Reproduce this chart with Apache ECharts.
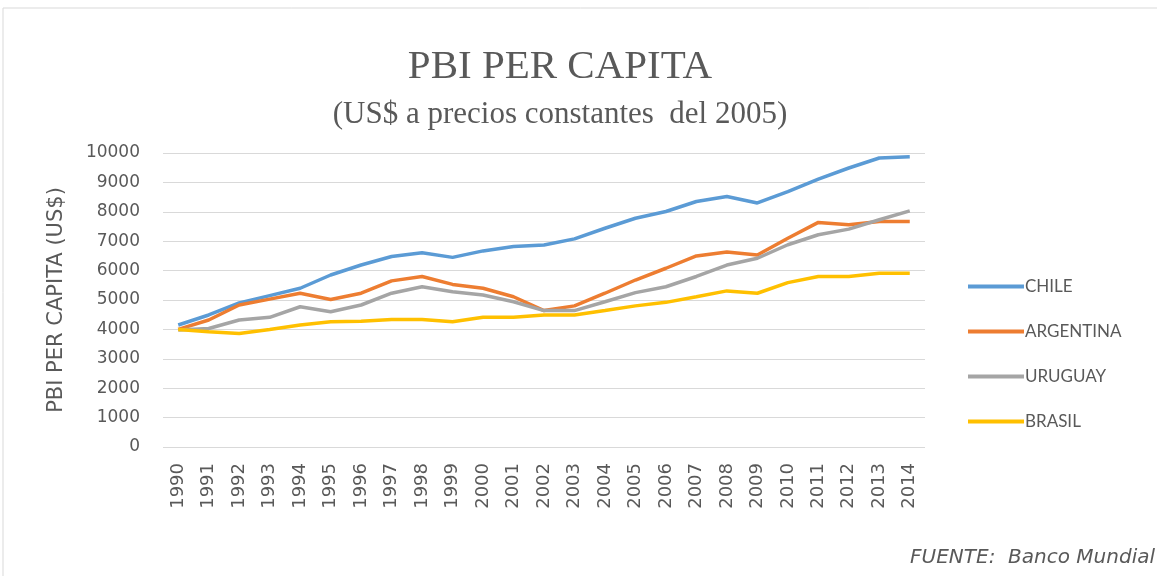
<!DOCTYPE html>
<html>
<head>
<meta charset="utf-8">
<script src="https://cdn.jsdelivr.net/npm/echarts@6/dist/echarts.min.js"></script>
<style>
  html, body { margin: 0; padding: 0; background: #fff; }
  #chart { width: 1157px; height: 576px; }
</style>
</head>
<body>
<div id="chart"></div>
<script>
  // years on the x axis
  const years = ['1990', '1991', '1992', '1993', '1994', '1995', '1996', '1997', '1998', '1999',
    '2000', '2001', '2002', '2003', '2004', '2005', '2006', '2007', '2008', '2009',
    '2010', '2011', '2012', '2013', '2014'];

  // GDP per capita, US$ constant 2005
  const chile = [4150, 4490, 4900, 5150, 5400, 5850, 6190, 6480, 6610, 6450,
    6670, 6820, 6870, 7080, 7440, 7780, 8010, 8350, 8520, 8300,
    8690, 9110, 9490, 9830, 9870];
  const argentina = [4000, 4320, 4830, 5030, 5230, 5020, 5230, 5650, 5800, 5530,
    5400, 5110, 4640, 4800, 5230, 5680, 6080, 6500, 6630, 6530,
    7100, 7640, 7560, 7670, 7670];
  const uruguay = [3980, 4030, 4320, 4410, 4770, 4600, 4830, 5230, 5450, 5280,
    5170, 4940, 4640, 4640, 4940, 5250, 5450, 5800, 6190, 6420,
    6880, 7220, 7410, 7730, 8030];
  const brasil = [4000, 3920, 3860, 4000, 4150, 4260, 4280, 4340, 4340, 4260,
    4410, 4410, 4490, 4490, 4640, 4800, 4920, 5110, 5310, 5230,
    5590, 5800, 5800, 5910, 5910];

  const textColor = '#595959';
  const font = 'DejaVu Sans';

  function line(name, data, color) {
    return {
      name: name,
      type: 'line',
      data: data,
      symbol: 'none',
      animation: false,
      lineStyle: { width: 3.5, color: color },
      itemStyle: { color: color }
    };
  }

  const chart = echarts.init(document.getElementById('chart'));
  chart.setOption({
    backgroundColor: '#fff',
    title: [
      {
        text: 'PBI PER CAPITA',
        left: 555,
        textAlign: 'center',
        top: 42,
        textStyle: { fontFamily: 'Liberation Serif', fontSize: 41, fontWeight: 'normal', color: textColor }
      },
      {
        text: '(US$ a precios constantes  del 2005)',
        left: 555,
        textAlign: 'center',
        top: 94,
        textStyle: { fontFamily: 'Liberation Serif', fontSize: 31, fontWeight: 'normal', color: textColor }
      }
    ],
    // light frame round the chart
    graphic: [{
      type: 'rect',
      shape: { x: 3, y: 8, width: 1170, height: 600 },
      style: { fill: 'none', stroke: '#d9d9d9', lineWidth: 1 }
    }, {
      type: 'text',
      right: 2,
      bottom: 8,
      style: {
        text: 'FUENTE:  Banco Mundial',
        fontFamily: font,
        fontStyle: 'italic',
        fontSize: 20,
        fill: textColor
      }
    }],
    legend: {
      orient: 'vertical',
      left: 963,
      top: 273,
      itemWidth: 56,
      itemHeight: 4,
      itemGap: 28,
      icon: 'rect',
      textStyle: { fontFamily: 'Lato', fontSize: 17, color: textColor, padding: [0, 0, 0, -4] },
      data: ['CHILE', 'ARGENTINA', 'URUGUAY', 'BRASIL']
    },
    grid: { left: 163, right: 232, top: 153, bottom: 129 },
    xAxis: {
      type: 'category',
      data: years,
      boundaryGap: true,
      axisLine: { show: false },
      axisTick: { show: false },
      axisLabel: { rotate: 90, margin: 16, fontFamily: font, fontSize: 18, color: textColor }
    },
    yAxis: {
      type: 'value',
      min: 0,
      max: 10000,
      interval: 1000,
      name: 'PBI PER CAPITA (US$)',
      nameLocation: 'middle',
      nameGap: 96,
      nameTextStyle: { fontFamily: font, fontSize: 21, color: textColor },
      axisLine: { show: false },
      axisTick: { show: false },
      axisLabel: {
        margin: 23,
        fontFamily: font,
        fontSize: 17,
        color: textColor,
        formatter: function (v) { return String(v); }
      },
      splitLine: { lineStyle: { color: '#d9d9d9', width: 1 } }
    },
    series: [
      line('CHILE', chile, '#5B9BD5'),
      line('ARGENTINA', argentina, '#ED7D31'),
      line('URUGUAY', uruguay, '#A5A5A5'),
      line('BRASIL', brasil, '#FFC000')
    ]
  });
</script>
</body>
</html>
